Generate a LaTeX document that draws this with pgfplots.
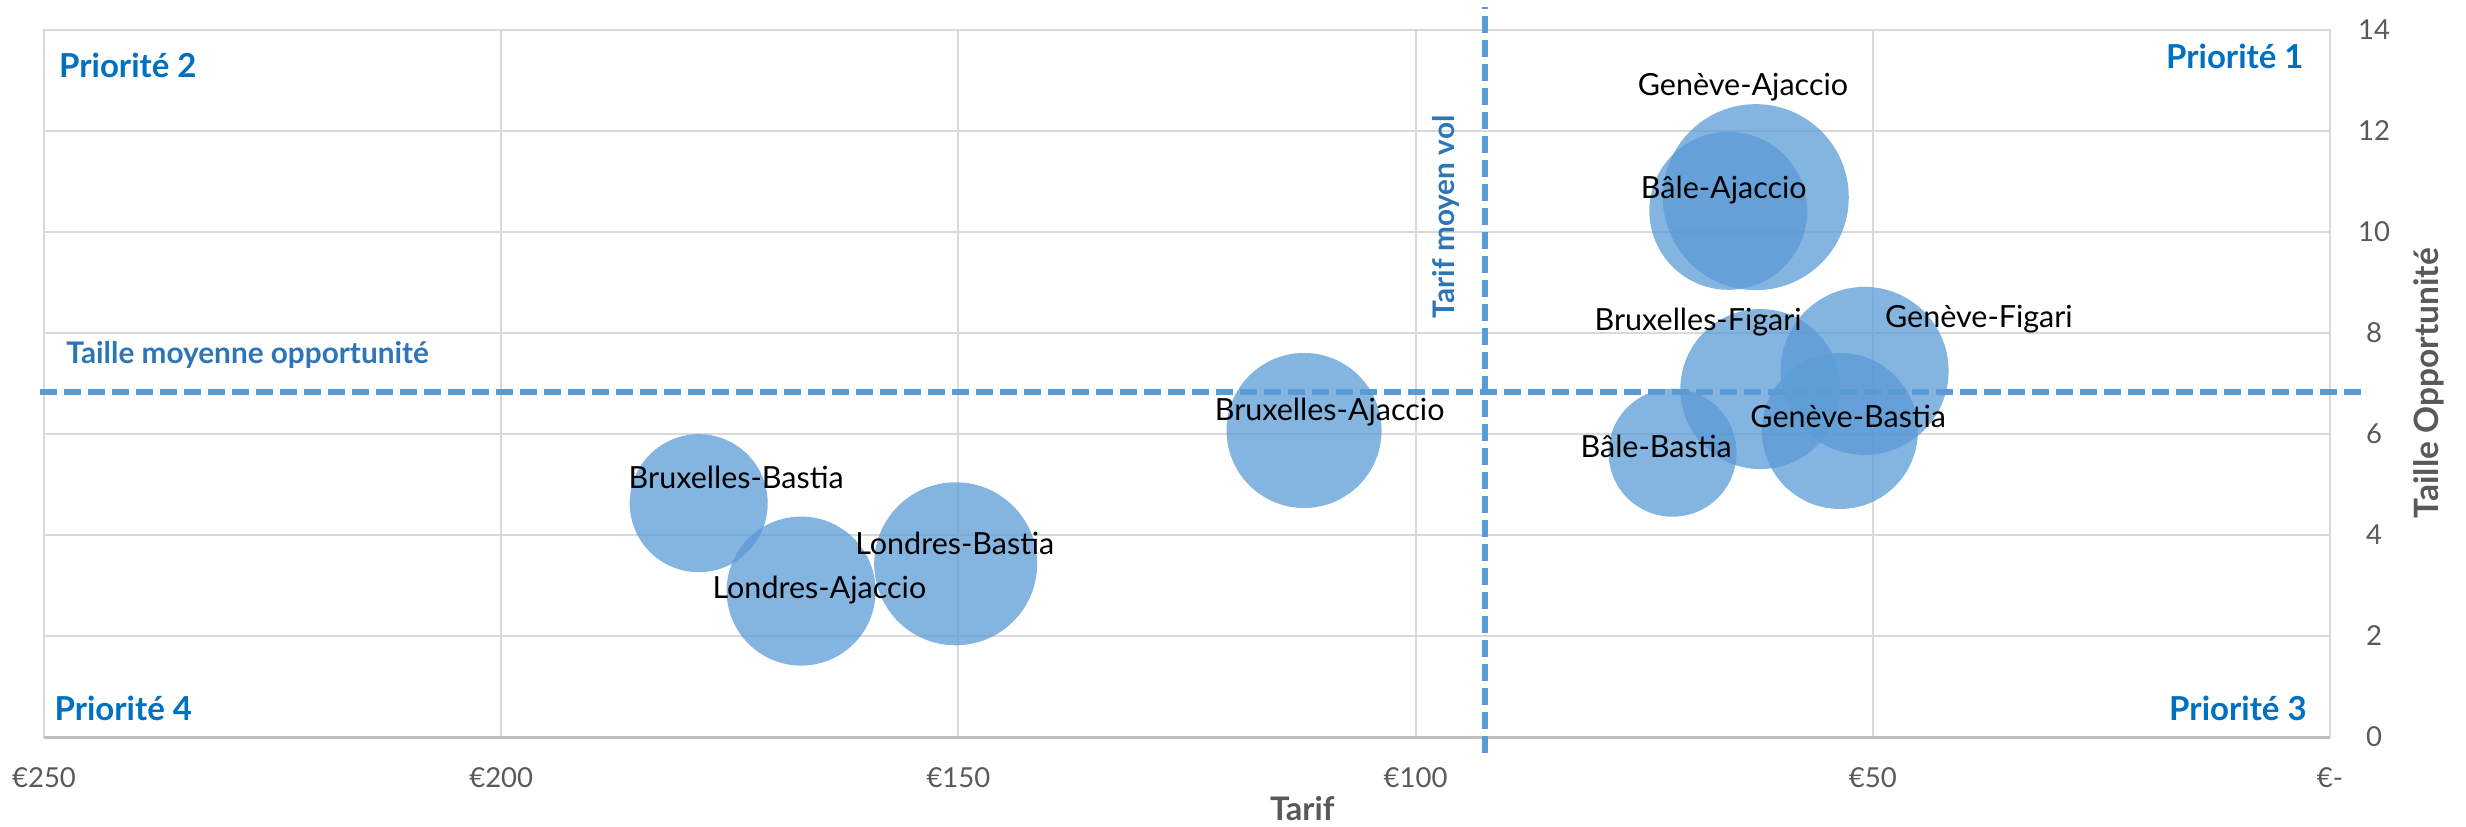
\documentclass[border=0pt]{standalone}
\usepackage{pgfplots}
\pgfplotsset{compat=1.18}
\usepackage{pgfplotstable}
\usepackage{fontspec}
\setmainfont{Lato}
\definecolor{bub}{HTML}{5B9BD5}
\definecolor{avgline}{HTML}{5B9BD5}
\definecolor{prio}{HTML}{0070C0}
\definecolor{avgtxt}{HTML}{2E75B6}
\definecolor{tickgray}{HTML}{595959}
\definecolor{gridgray}{HTML}{D9D9D9}
\definecolor{basegray}{HTML}{BFBFBF}

\pgfplotstableread{
x y r
62.8 10.69 37.2
65.8 10.42 31.6
62.3 6.89 32.0
50.9 7.25 33.6
53.6 6.06 31.2
71.9 5.63 25.6
112.2 6.07 31.0
178.4 4.63 27.6
167.2 2.89 29.8
150.3 3.43 32.6
}\bubbles

\begin{document}
\begin{tikzpicture}
\begin{axis}[
  at={(0,0)}, anchor=south west,
  scale only axis, width=914.4pt, height=282.8pt,
  set layers,
  x dir=reverse, xmin=0, xmax=250, ymin=0, ymax=14,
  xtick={0,50,100,150,200,250},
  xticklabels={€-,€50,€100,€150,€200,€250},
  ytick={0,2,4,6,8,10,12,14},
  yticklabel pos=right,
  grid=major,
  major grid style={draw=gridgray, line width=0.8pt},
  axis line style={draw=gridgray, line width=0.8pt},
  tick style={draw=none},
  ticklabel style={font=\fontsize{11}{13}\selectfont, text=tickgray},
  xticklabel style={anchor=center, yshift=-16.4pt},
  yticklabel style={anchor=center, xshift=17.6pt},
  /pgf/number format/assume math mode=true,
  clip=false,
]
\draw[basegray, line width=1.2pt] (axis cs:250,0) -- (axis cs:0,0);

\addplot[scatter, only marks, mark=*,
  scatter/use mapped color={draw opacity=0, fill=bub, fill opacity=0.75},
  visualization depends on={\thisrow{r} \as \rr},
  scatter/@pre marker code/.append style={/tikz/mark size=\rr}]
  table[x=x, y=y] {\bubbles};

% average lines
\addplot[avgline, line width=2.3pt, dash pattern=on 6.8pt off 2.8pt] coordinates {(250.4,6.83) (-3.7,6.83)};
\addplot[avgline, line width=2.4pt, dash pattern=on 6.8pt off 2.8pt] coordinates {(92.4,-0.32) (92.4,14.46)};

\begin{pgfonlayer}{axis foreground}
% bubble labels
\begin{scope}[every node/.style={font=\fontsize{12.2}{14}\selectfont, text=black, inner sep=0pt}]
\node at (axis cs:64.2,12.87) {Genève-Ajaccio};
\node at (axis cs:66.3,10.83) {Bâle-Ajaccio};
\node at (axis cs:69.1,8.22) {Bruxelles-Figari};
\node at (axis cs:38.4,8.28) {Genève-Figari};
\node at (axis cs:52.7,6.34) {Genève-Bastia};
\node at (axis cs:73.7,5.76) {Bâle-Bastia};
\node at (axis cs:109.4,6.44) {Bruxelles-Ajaccio};
\node at (axis cs:174.3,5.15) {Bruxelles-Bastia};
\node at (axis cs:150.4,3.84) {Londres-Bastia};
\node at (axis cs:165.2,2.91) {Londres-Ajaccio};
\end{scope}

% quadrant labels
\begin{scope}[every node/.style={font=\bfseries\fontsize{13.2}{15}\selectfont, text=prio, inner sep=0pt}]
\node[anchor=west] at (axis cs:248.4,13.29) {Priorité 2};
\node[anchor=east] at (axis cs:2.84,13.47) {Priorité 1};
\node[anchor=west] at (axis cs:248.9,0.574) {Priorité 4};
\node[anchor=east] at (axis cs:2.5,0.574) {Priorité 3};
\end{scope}

\node[anchor=west, inner sep=0pt, font=\bfseries\fontsize{11.9}{13}\selectfont, text=avgtxt] at (axis cs:247.6,7.56) {Taille moyenne opportunité};
\node[rotate=90, inner sep=0pt, font=\bfseries\fontsize{11.9}{13}\selectfont, text=avgtxt] at (axis cs:96.7,10.3) {Tarif moyen vol};

% axis titles
\node[inner sep=0pt, font=\bfseries\fontsize{13}{15}\selectfont, text=tickgray] at (axis cs:112.4,-1.42) {Tarif};
\node[rotate=90, inner sep=0pt, font=\bfseries\fontsize{13.4}{15}\selectfont, text=tickgray] at (axis cs:-10.83,7.01) {Taille Opportunité};
\end{pgfonlayer}
\end{axis}
\path (-17.6pt,-35.6pt) rectangle (968.8pt,294.8pt);
\end{tikzpicture}
\end{document}
